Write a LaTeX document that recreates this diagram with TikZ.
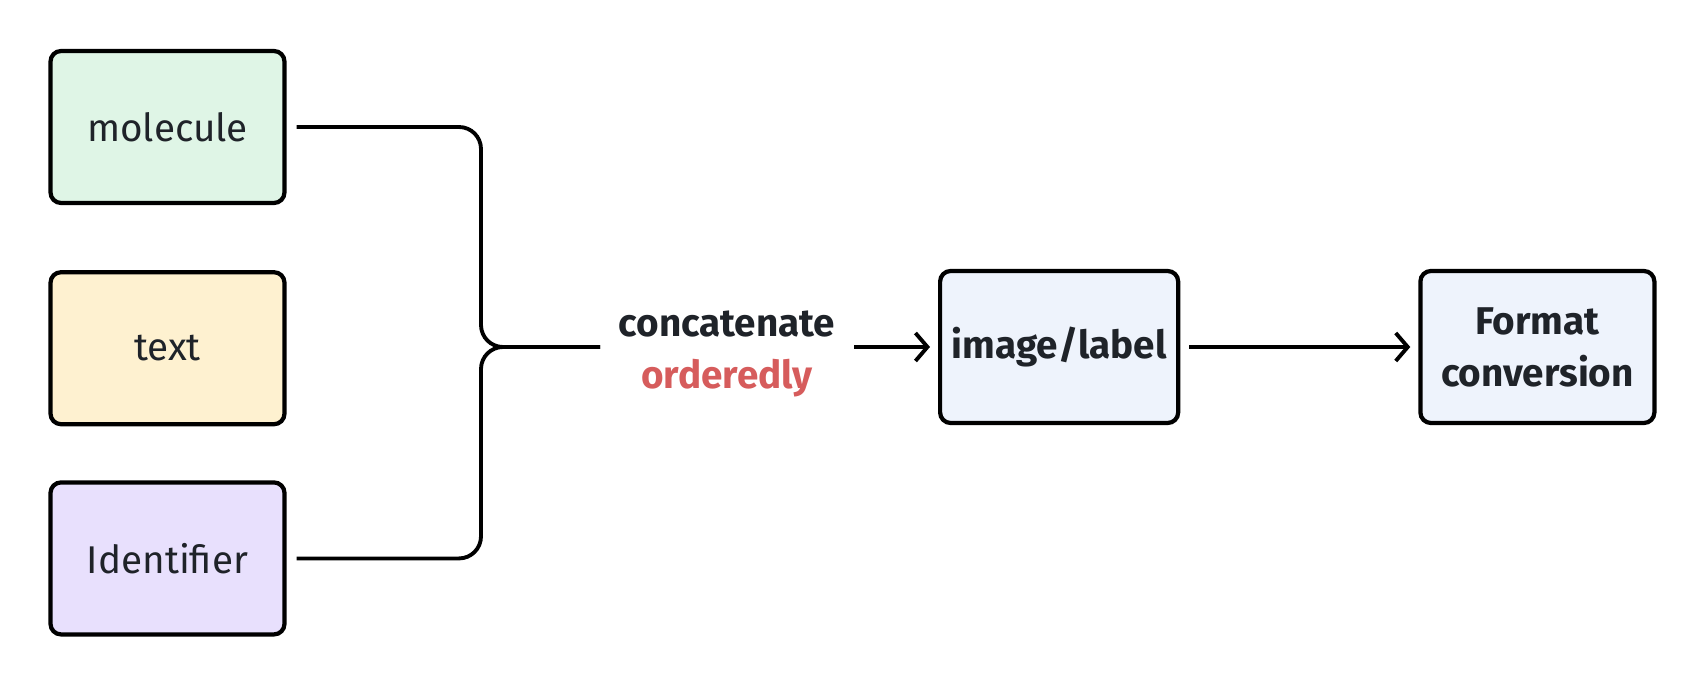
\documentclass[tikz,border=0pt]{standalone}
\usepackage{fontspec}
\setmainfont{Fira Sans}
\usetikzlibrary{positioning,arrows.meta}

\definecolor{inkdark}{HTML}{1F2329}
\definecolor{molfill}{HTML}{DFF5E6}
\definecolor{txtfill}{HTML}{FEF1D0}
\definecolor{idfill}{HTML}{E8E0FD}
\definecolor{procfill}{HTML}{EEF3FC}
\definecolor{accentred}{HTML}{D65C5C}

\begin{document}
\begin{tikzpicture}[
  inbox/.style={rectangle, draw=black, line width=1.2pt, rounded corners=3pt, minimum height=1.52cm,
                minimum width=2.34cm, align=center, text=inkdark, font=\fontsize{11}{14.8}\selectfont},
  procbox/.style={inbox, fill=procfill, font=\fontsize{11}{14.8}\selectfont\bfseries},
  conn/.style={line width=1.1pt, rounded corners=0.22cm},
  arr/.style={line width=1.1pt, -{Straight Barb[length=0.12cm, width=0.28cm, line width=1.1pt]}},
]
  \useasboundingbox (0,0) rectangle (17.06,6.84);

  % inputs
  \node[inbox, fill=molfill] (mol) at (1.675,5.57) {molecule};
  \node[inbox, fill=txtfill, below=0.65cm of mol] (txt) {text};
  \node[inbox, fill=idfill, below=0.54cm of txt] (ident) {Identifier};

  % join
  \coordinate (join) at (4.81,3.37);
  \node[align=center, inner xsep=0.18cm, font=\fontsize{11}{14.8}\selectfont\bfseries, text=inkdark]
    (cat) at (7.27,3.30) {concatenate\\\textcolor{accentred}{orderedly}};

  % outputs
  \node[procbox, right=0.84cm of cat, yshift=0.07cm] (img) {image/label};
  \node[procbox, right=2.38cm of img] (fmt) {Format\\conversion};

  % connectors
  \draw[conn] ([xshift=0.1cm]mol.east) -| (join) -- (join -| cat.west);
  \draw[conn] ([xshift=0.1cm]ident.east) -| (join) -- (join -| cat.west);
  \draw[arr, shorten >=0.08cm] (join -| cat.east) -- (img.west);
  \draw[arr, shorten <=0.09cm, shorten >=0.08cm] (img.east) -- (fmt.west);
\end{tikzpicture}
\end{document}
